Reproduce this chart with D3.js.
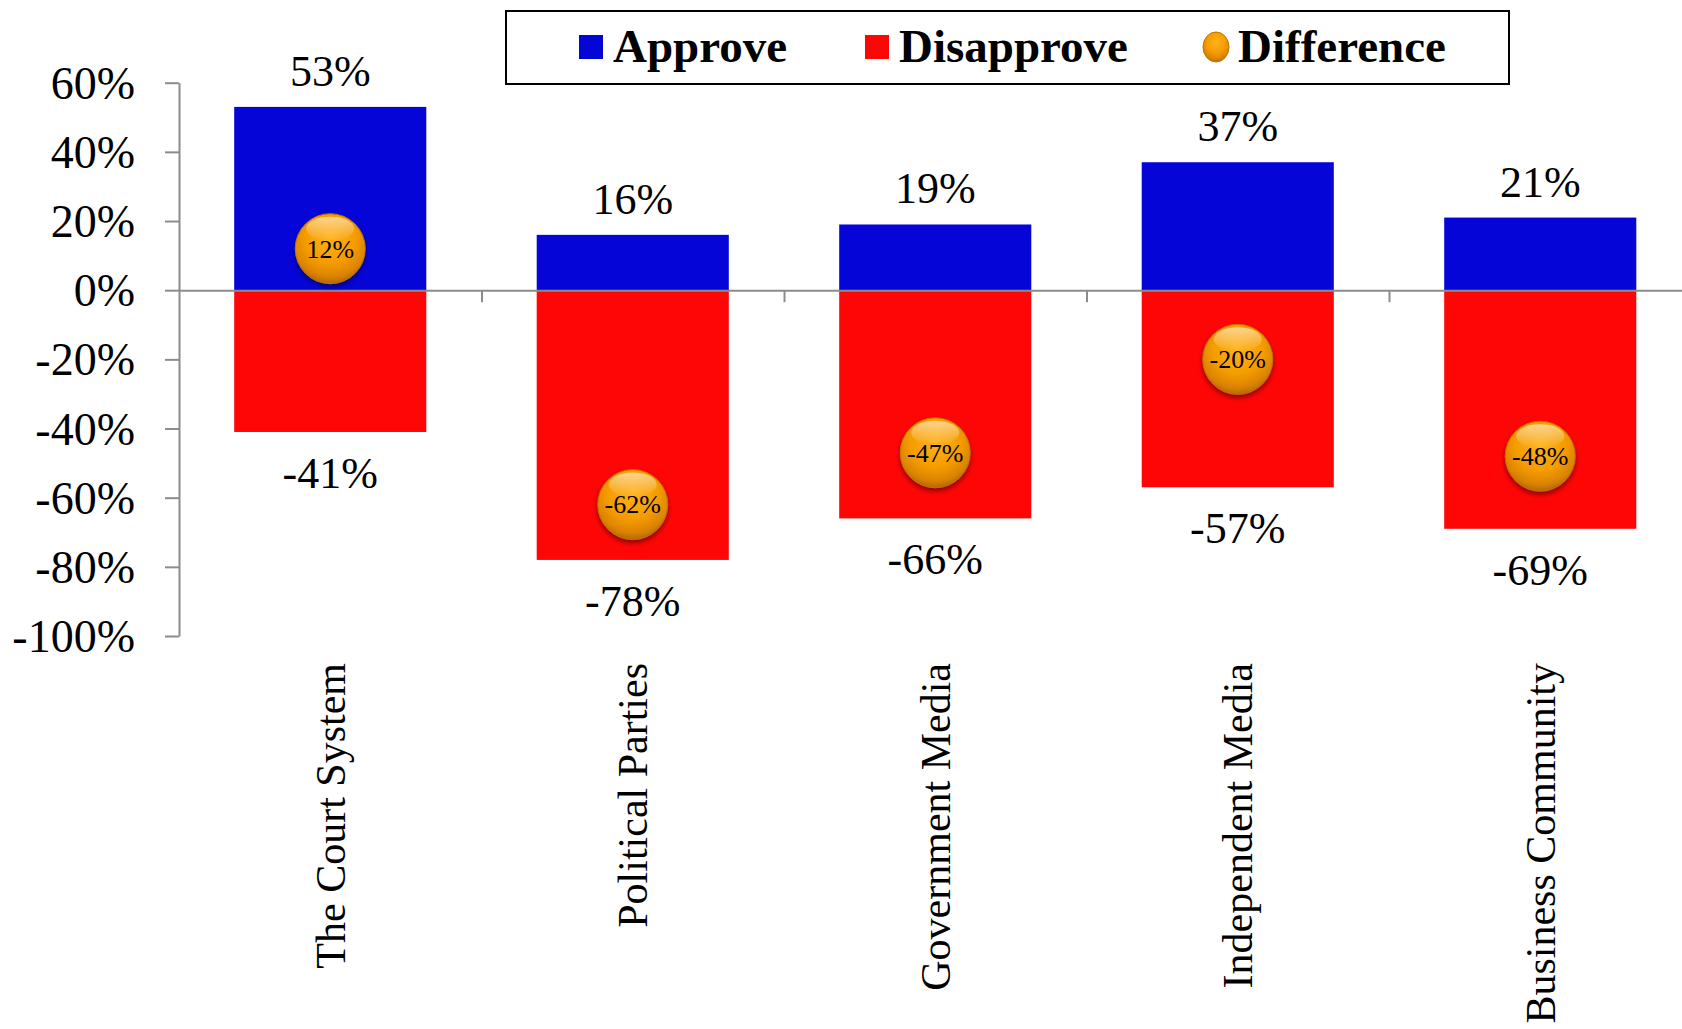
<!DOCTYPE html>
<html>
<head>
<meta charset="utf-8">
<script src="https://cdn.jsdelivr.net/npm/d3@7"></script>
<style>
  body { margin: 0; background: #fff; }
  svg text { font-family: "Liberation Serif", "Times New Roman", serif !important; }
</style>
</head>
<body>
<div id="chart"></div>
<script>
const categories = ["The Court System", "Political Parties", "Government Media", "Independent Media", "Business Community"];
const approve = [53, 16, 19, 37, 21];
const disapprove = [-41, -78, -66, -57, -69];
const difference = [12, -62, -47, -20, -48];
const yTicks = [60, 40, 20, 0, -20, -40, -60, -80, -100];
const legendItems = ["Approve", "Disapprove", "Difference"];

const W = 1682, H = 1029;
const blue = "#0505D8", red = "#FE0606", axisCol = "#8c8c8c";
const serif = "Liberation Serif";

const svg = d3.select("#chart").append("svg")
    .attr("width", W)
    .attr("height", H);

const defs = svg.append("defs");
const grad = defs.append("radialGradient")
    .attr("id", "ball")
    .attr("cx", "50%").attr("cy", "35%").attr("r", "65%");
grad.append("stop").attr("offset", "0%").attr("stop-color", "#FFB21A");
grad.append("stop").attr("offset", "55%").attr("stop-color", "#F59C00");
grad.append("stop").attr("offset", "85%").attr("stop-color", "#DB8300");
grad.append("stop").attr("offset", "100%").attr("stop-color", "#B56800");
const hl = defs.append("linearGradient")
    .attr("id", "hl").attr("x1", 0).attr("y1", 0).attr("x2", 0).attr("y2", 1);
hl.append("stop").attr("offset", "0%").attr("stop-color", "#fff").attr("stop-opacity", 0.55);
hl.append("stop").attr("offset", "100%").attr("stop-color", "#fff").attr("stop-opacity", 0);
const shadow = defs.append("filter").attr("id", "shadow")
    .attr("x", "-30%").attr("y", "-30%").attr("width", "160%").attr("height", "170%");
shadow.append("feDropShadow")
    .attr("dx", 0).attr("dy", 3).attr("stdDeviation", 2.5)
    .attr("flood-color", "#000").attr("flood-opacity", 0.45);

// scales
const left = 179, step = 302.5;
const x = d3.scaleBand()
    .domain(categories)
    .range([left, left + step * categories.length])
    .paddingInner(0.365)
    .paddingOuter(0.1825);
const xb = d3.scaleLinear().domain([0, categories.length]).range(x.range());
const y = d3.scaleLinear().domain([-100, 60]).range([636, 82.7]);

// bars
svg.selectAll(".approve").data(approve).join("rect")
    .attr("x", (d, i) => x(categories[i]))
    .attr("width", x.bandwidth())
    .attr("y", d => y(d))
    .attr("height", d => y(0) - y(d))
    .attr("fill", blue);

svg.selectAll(".disapprove").data(disapprove).join("rect")
    .attr("x", (d, i) => x(categories[i]))
    .attr("width", x.bandwidth())
    .attr("y", y(0))
    .attr("height", d => y(d) - y(0))
    .attr("fill", red);

// y axis
const yAxis = svg.append("g")
    .attr("transform", `translate(${left},0)`)
    .attr("font-family", serif)
    .call(d3.axisLeft(y).tickValues(yTicks).tickSize(14).tickSizeOuter(0)
        .tickFormat(d => d + "%"));
yAxis.attr("font-family", serif);
yAxis.selectAll("path, line").attr("stroke", axisCol).attr("stroke-width", 2);
yAxis.selectAll("text")
    .attr("fill", "#000")
    .attr("font-family", serif)
    .style("font-size", "46px")
    .attr("x", -44)
    .attr("dy", "0.34em");

// x axis along zero
const xAxis = svg.append("g")
    .attr("transform", `translate(0,${y(0)})`)
    .call(d3.axisBottom(xb).tickValues([1, 2, 3, 4]).tickSize(12).tickSizeOuter(0).tickFormat(""));
xAxis.selectAll("path, line").attr("stroke", axisCol).attr("stroke-width", 2);

// value labels
svg.selectAll(".alab").data(approve).join("text")
    .attr("x", (d, i) => x(categories[i]) + x.bandwidth() / 2)
    .attr("y", d => y(d) - 21)
    .attr("text-anchor", "middle")
    .attr("font-family", serif)
    .style("font-size", "44px")
    .text(d => d + "%");

svg.selectAll(".dlab").data(disapprove).join("text")
    .attr("x", (d, i) => x(categories[i]) + x.bandwidth() / 2)
    .attr("y", d => y(d) + 56)
    .attr("text-anchor", "middle")
    .attr("font-family", serif)
    .style("font-size", "44px")
    .text(d => d + "%");

// difference balls
const balls = svg.selectAll(".ball").data(difference).join("g")
    .attr("transform", (d, i) => `translate(${x(categories[i]) + x.bandwidth() / 2},${y(d)})`);
balls.append("circle").attr("r", 35).attr("fill", "url(#ball)").attr("filter", "url(#shadow)")
    .attr("stroke", "#C07400").attr("stroke-width", 1);
balls.append("ellipse").attr("cy", -20).attr("rx", 24).attr("ry", 12).attr("fill", "url(#hl)");
balls.append("text")
    .attr("text-anchor", "middle")
    .attr("dy", "0.34em")
    .attr("font-family", serif)
    .style("font-size", "26px")
    .text(d => d + "%");

// category labels
svg.selectAll(".cat").data(categories).join("text")
    .attr("transform", d => `translate(${x(d) + x.bandwidth() / 2},663) rotate(-90)`)
    .attr("text-anchor", "end")
    .attr("dy", "0.34em")
    .attr("font-family", serif)
    .style("font-size", "42px")
    .text(d => d);

// legend
const legend = svg.append("g");
legend.append("rect")
    .attr("x", 506).attr("y", 11).attr("width", 1003).attr("height", 73)
    .attr("fill", "#fff").attr("stroke", "#000").attr("stroke-width", 2);
const legendX = [579, 865, 1203];
const li = legend.selectAll(".li").data(legendItems).join("g")
    .attr("transform", (d, i) => `translate(${legendX[i]},0)`);
li.each(function(d, i) {
    const g = d3.select(this);
    if (i < 2) {
        g.append("rect").attr("x", 0).attr("y", 35).attr("width", 24).attr("height", 24)
            .attr("fill", i === 0 ? blue : red);
    } else {
        g.append("ellipse").attr("cx", 13).attr("cy", 47).attr("rx", 13).attr("ry", 15)
            .attr("fill", "url(#ball)").attr("stroke", "#C07400").attr("stroke-width", 1);
    }
    g.append("text")
        .attr("x", i < 2 ? 34 : 35)
        .attr("y", 62)
        .attr("font-family", serif)
        .style("font-size", "47px")
        .style("font-weight", "bold")
        .text(d);
});
</script>
</body>
</html>
